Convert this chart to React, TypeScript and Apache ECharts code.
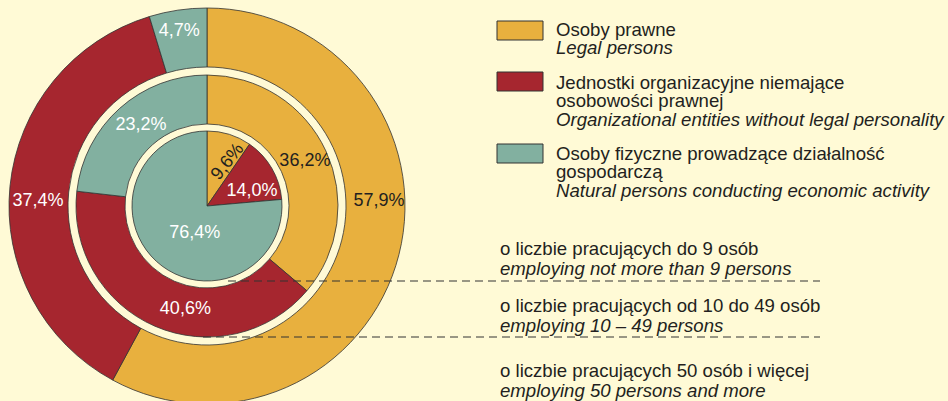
import { useEffect, useRef } from "react";
import * as echarts from "echarts";

// ---- data ----
const categoriesPl = [
  "Osoby prawne",
  "Jednostki organizacyjne niemające\nosobowości prawnej",
  "Osoby fizyczne prowadzące działalność\ngospodarczą",
];
const categoriesEn = [
  "Legal persons",
  "Organizational entities without legal personality",
  "Natural persons conducting economic activity",
];
const groupsPl = [
  "o liczbie pracujących do 9 osób",
  "o liczbie pracujących od 10 do 49 osób",
  "o liczbie pracujących 50 osób i więcej",
];
const groupsEn = [
  "employing not more than 9 persons",
  "employing 10 – 49 persons",
  "employing 50 persons and more",
];
const upTo9 = [9.6, 14.0, 76.4];
const from10to49 = [36.2, 40.6, 23.2];
const from50 = [57.9, 37.4, 4.7];

// ---- styles / layout ----
const COLORS = ["#E8B03E", "#A6262F", "#82B0A0"];
const LABEL_COLORS = ["#231f20", "#ffffff", "#ffffff"];
const BG = "#FFFAD6";
const INK = "#231f20";
const FONT = '"Liberation Sans", Arial, sans-serif';
const CX = 207;
const CY = 206;
const R_INNER = 75;
const R_MID = [82, 131];
const R_OUT = [139, 198];
// label placement (radius, angle clockwise from 12 o'clock, rotation)
const LABEL_POS_INNER = [[49, 24, 52], [48, 70, 0], [29, 205, 0]];
const LABEL_POS_MID = [[108, 65, 0], [104, 192, 0], [105, 321, 0]];
const LABEL_POS_OUT = [[172, 88, 0], [169, 272, 0], [178, 351, 0]];

function fmt(v: number) {
  return v.toFixed(1).replace(".", ",") + "%";
}

function ring(name: string, values: number[], radius: any, pos: number[][]) {
  return {
    type: "pie",
    name,
    center: [CX, CY],
    radius,
    startAngle: 90,
    clockwise: true,
    silent: true,
    avoidLabelOverlap: false,
    itemStyle: { borderColor: "#333333", borderWidth: 0.8 },
    label: {
      show: true,
      position: "inside",
      formatter: (p: any) => fmt(p.value),
      fontFamily: FONT,
      fontSize: 18,
    },
    labelLine: { show: false },
    labelLayout: (p: any) => {
      const [r, a, rot] = pos[p.dataIndex];
      const rad = (a * Math.PI) / 180;
      return {
        x: CX + r * Math.sin(rad),
        y: CY - r * Math.cos(rad),
        rotate: rot,
        align: "center",
        verticalAlign: "middle",
      };
    },
    data: values.map((v, i) => ({
      value: v,
      name: categoriesEn[i],
      itemStyle: { color: COLORS[i] },
      label: { color: LABEL_COLORS[i] },
    })),
  };
}

function textEl(x: number, y: number, text: string, italic: boolean) {
  return {
    type: "text",
    x,
    y,
    style: {
      text,
      fill: INK,
      fontFamily: FONT,
      fontSize: 18.6,
      fontStyle: italic ? "italic" : "normal",
      lineHeight: 18,
      align: "left",
      verticalAlign: "middle",
    },
  };
}

export default function App() {
  const ref = useRef<HTMLDivElement>(null);
  useEffect(() => {
    if (!ref.current) return;
    const chart = echarts.init(ref.current, null, { renderer: "svg" });

    const graphics: any[] = [];
    // legend
    const boxTop = [21, 72, 144];
    const firstLine = [29, 82, 153];
    const step = 18.5;
    categoriesPl.forEach((pl, i) => {
      graphics.push({
        type: "rect",
        shape: { x: 497, y: boxTop[i], width: 46, height: 19 },
        style: { fill: COLORS[i], stroke: "#333", lineWidth: 1 },
      });
      const lines = pl.split("\n");
      lines.forEach((ln, k) => {
        graphics.push(textEl(556, firstLine[i] + k * step, ln, false));
      });
      graphics.push(textEl(556, firstLine[i] + lines.length * step, categoriesEn[i], true));
    });
    // group captions
    const capY = [248, 305, 370];
    groupsPl.forEach((pl, i) => {
      graphics.push(textEl(500, capY[i], pl, false));
      graphics.push(textEl(500, capY[i] + 20.5, groupsEn[i], true));
    });
    // dashed separators at ring bottoms
    [
      [228, CY + R_INNER],
      [203, CY + R_MID[1]],
    ].forEach(([x0, y]) => {
      graphics.push({
        type: "line",
        z: 100,
        shape: { x1: x0, y1: y, x2: 820, y2: y },
        style: { stroke: "#333", lineWidth: 1, lineDash: [8, 5] },
      });
    });

    chart.setOption({
      animation: false,
      backgroundColor: BG,
      series: [
        ring("50+", from50, R_OUT, LABEL_POS_OUT),
        ring("10-49", from10to49, R_MID, LABEL_POS_MID),
        ring("0-9", upTo9, [0, R_INNER], LABEL_POS_INNER),
      ],
      graphic: graphics,
    });
    return () => chart.dispose();
  }, []);
  return (
    <div
      ref={ref}
      style={{ position: "fixed", left: 0, top: 0, width: 948, height: 401, background: BG }}
    />
  );
}
